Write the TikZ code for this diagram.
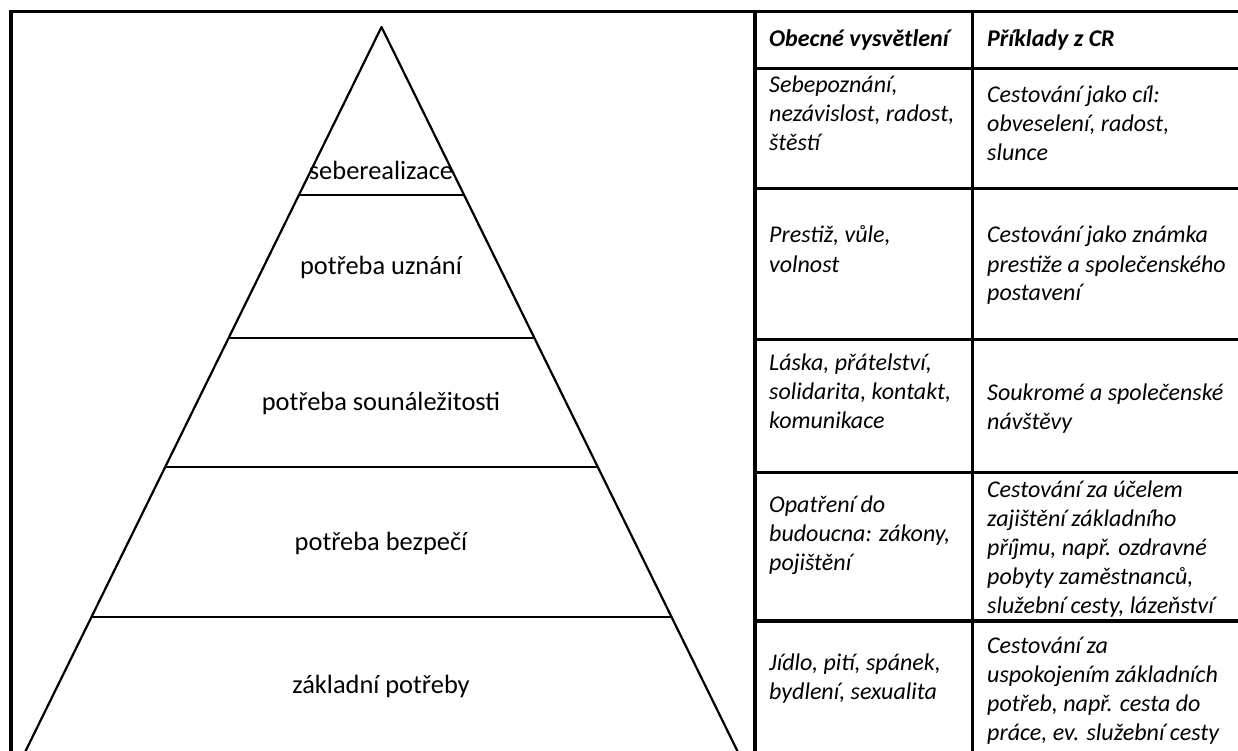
\documentclass[tikz,border=0pt]{standalone}
\usepackage{fontspec}
\setmainfont{Carlito}
\begin{document}
\begin{tikzpicture}[x=1pt,y=-1pt,
  frame/.style={line width=3.3pt},
  pyr/.style={line width=2.2pt},
  lvl/.style={font=\fontsize{26.4}{31}\selectfont, inner sep=0pt, anchor=base},
  cell/.style={font=\fontsize{24}{29}\selectfont\itshape, inner sep=0pt, anchor=base west},
  head/.style={font=\fontsize{24}{29}\selectfont\bfseries\itshape, inner sep=0pt, anchor=base west}]
\useasboundingbox (0,0) rectangle (1238,751);
\clip (0,0) rectangle (1238,751);
% outer frame and table
\draw[frame] (11,800) -- (11,11.5) -- (1250,11.5);
\draw[frame] (755,11.5) -- (755,800);
\draw[frame] (972.3,11.5) -- (972.3,800);
\foreach \yy in {68.5,188.5,339.5,472.3,621}
  \draw[frame] (755,\yy) -- (1250,\yy);
% pyramid
\coordinate (apex) at (381.5,27);
\coordinate (bl) at (1.5,800);
\coordinate (br) at (761.5,800);
\draw[pyr, line join=round] (bl) -- (apex) -- (br);
\coordinate (a1) at (298.8,195); \coordinate (b1) at (464.2,195);
\coordinate (a2) at (228.4,338.3); \coordinate (b2) at (534.6,338.3);
\coordinate (a3) at (165.3,467); \coordinate (b3) at (597.7,467);
\coordinate (a4) at (91.0,616.7); \coordinate (b4) at (672.0,616.7);
\draw[pyr] (a1) -- (b1);
\draw[pyr] (a2) -- (b2);
\draw[pyr] (a3) -- (b3);
\draw[pyr] (a4) -- (b4);
\node[lvl] (p1) at (381,180) {seberealizace};
\node[lvl] (p2) at (381,274) {potřeba uznání};
\node[lvl] (p3) at (381,410) {potřeba sounáležitosti};
\node[lvl] (p4) at (381,550) {potřeba bezpečí};
\node[lvl] (p5) at (381,693) {základní potřeby};
% header
\node[head] (h1) at (769,47) {Obecné vysvětlení};
\node[head] (h2) at (987,47) {Příklady z CR};
% left column
\node[cell] (l1) at (769,93) {\begin{tabular}[t]{@{}l@{}}Sebepoznání,\\nezávislost, radost,\\štěstí\end{tabular}};
\node[cell] (l2) at (769,243) {\begin{tabular}[t]{@{}l@{}}Prestiž, vůle,\\volnost\end{tabular}};
\node[cell] (l3) at (769,370) {\begin{tabular}[t]{@{}l@{}}Láska, přátelství,\\solidarita, kontakt,\\komunikace\end{tabular}};
\node[cell] (l4) at (769,512) {\begin{tabular}[t]{@{}l@{}}Opatření do\\budoucna: zákony,\\pojištění\end{tabular}};
\node[cell] (l5) at (769,670) {\begin{tabular}[t]{@{}l@{}}Jídlo, pití, spánek,\\bydlení, sexualita\end{tabular}};
% right column
\node[cell] (r1) at (987,103) {\begin{tabular}[t]{@{}l@{}}Cestování jako cíl:\\obveselení, radost,\\slunce\end{tabular}};
\node[cell] (r2) at (987,243) {\begin{tabular}[t]{@{}l@{}}Cestování jako známka\\prestiže a společenského\\postavení\end{tabular}};
\node[cell] (r3) at (987,400) {\begin{tabular}[t]{@{}l@{}}Soukromé a společenské\\návštěvy\end{tabular}};
\node[cell] (r4) at (987,497) {\begin{tabular}[t]{@{}l@{}}Cestování za účelem\\zajištění základního\\příjmu, např. ozdravné\\pobyty zaměstnanců,\\služební cesty, lázeňství\end{tabular}};
\node[cell] (r5) at (987,653) {\begin{tabular}[t]{@{}l@{}}Cestování za\\uspokojením základních\\potřeb, např. cesta do\\práce, ev. služební cesty\end{tabular}};
\end{tikzpicture}
\end{document}
